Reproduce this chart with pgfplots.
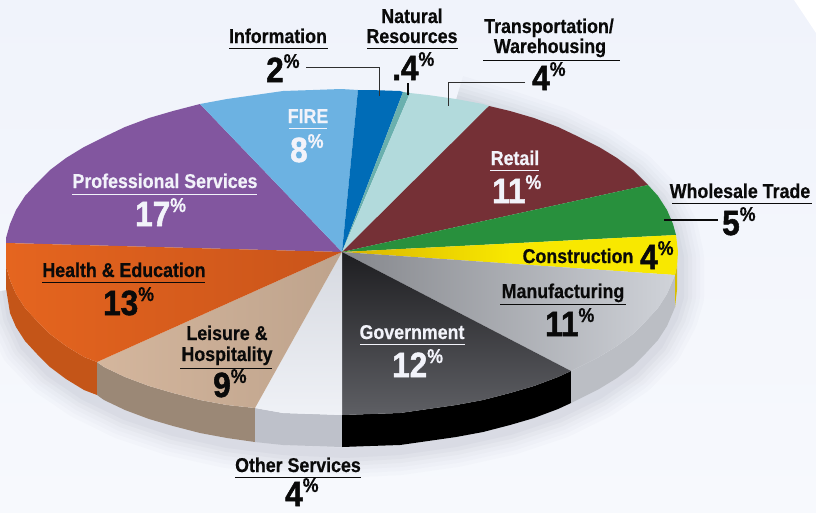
\documentclass[border=0pt]{standalone}
\usepackage{fontspec}
\setmainfont{Liberation Sans}[FakeStretch=0.9]
\newfontfamily\ttlf{Liberation Sans Bold}[FakeStretch=0.89,FakeBold=0.5]
\newfontfamily\numf{Liberation Sans Bold}[FakeStretch=0.9,FakeBold=1.5]
\usepackage{pgfplots}
\usepackage{pgfplotstable}
\pgfplotsset{compat=1.18}

\definecolor{bgtop}{HTML}{F0F3FB}
\definecolor{bgbot}{HTML}{F7F9FD}
\definecolor{shad}{HTML}{4E586C}
\definecolor{profc}{HTML}{82569F}
\definecolor{firec}{HTML}{6CB2E2}
\definecolor{infoc}{HTML}{006CB7}
\definecolor{natc}{HTML}{6AB0AE}
\definecolor{transc}{HTML}{B2DADC}
\definecolor{retailc}{HTML}{753036}
\definecolor{wholec}{HTML}{28903D}
\definecolor{txt}{HTML}{0A0A0A}
\definecolor{wtxt}{HTML}{F2F3FA}
\definecolor{side1}{HTML}{C45518}
\definecolor{side2}{HTML}{9B8876}
\definecolor{side3}{HTML}{BEC1CA}
\definecolor{side4}{HTML}{BBBEC4}
\definecolor{side5}{HTML}{D8BE00}
\definecolor{yl1}{HTML}{D9B400}
\definecolor{yl2}{HTML}{F8E800}
\definecolor{mf1}{HTML}{85878C}
\definecolor{mf2}{HTML}{D0D3D9}
\definecolor{gv1}{HTML}{1E1E21}
\definecolor{gvm}{HTML}{48494D}
\definecolor{gv2}{HTML}{5E5F64}
\definecolor{ot1}{HTML}{D6D9E0}
\definecolor{ot2}{HTML}{EFF1F6}
\definecolor{ls1}{HTML}{D4B69D}
\definecolor{ls2}{HTML}{BEA38C}
\definecolor{he1}{HTML}{E5651F}
\definecolor{he2}{HTML}{C9541A}

% right and lower edge of the pie, for the soft shadow
\pgfplotstableread{
x y
456 100
510 116
558 132
599 152
633 175
658 201
673 229
679 257
679 297
673 317
658 345
633 371
599 394
558 414
510 430
456 442
400 450
345 453
283 450
227 443
173 431
125 415
84 395
50 372
25 346
12 318
7 290
}\hull

\newcommand{\ttl}[4]{\node[anchor=base,inner sep=0pt,text=#3,font=\ttlf\fontsize{20}{20}\selectfont] at (axis cs:#1,#2) {#4};}
\newcommand{\rul}[4]{\draw[#4,line width=1pt] (axis cs:#1,#3) -- (axis cs:#2,#3);}
\newcommand{\pct}[4]{\node[anchor=base west,inner sep=0pt,text=#3] at (axis cs:#1,#2) {{\numf\fontsize{35}{35}\selectfont #4}\raisebox{14pt}{\ttlf\fontsize{20}{20}\selectfont\%}};}

\begin{document}
\begin{tikzpicture}
\begin{axis}[
  width=816pt, height=512pt,
  scale only axis,
  hide axis,
  xmin=0, xmax=816,
  ymin=0, ymax=512,
  y dir=reverse,
  clip=true,
]
% background
\addplot[draw=none, top color=bgtop, bottom color=bgbot] coordinates {(0,0) (816,0) (816,512) (0,512)} --cycle;
\addplot[draw=none, fill=white] coordinates {(794,0) (816,0) (816,33)} --cycle;

% shadow
\addplot[draw=shad, line width=50pt, opacity=0.02, line join=round] table {\hull};
\addplot[draw=shad, line width=42pt, opacity=0.02, line join=round] table {\hull};
\addplot[draw=shad, line width=34pt, opacity=0.025, line join=round] table {\hull};
\addplot[draw=shad, line width=26pt, opacity=0.03, line join=round] table {\hull};
\addplot[draw=shad, line width=18pt, opacity=0.035, line join=round] table {\hull};
\addplot[draw=shad, line width=10pt, opacity=0.04, line join=round] table {\hull};

% sides
\addplot[draw=none, fill=side1] coordinates {(97,362) (84,357) (66,346) (50,334) (37,321) (25,308) (16,294) (10,280) (6,266) (6,250) (6,288) (10,313) (16,327) (25,341) (37,354) (50,367) (66,379) (84,390) (97,395)} --cycle;
\addplot[draw=none, fill=side2] coordinates {(97,362) (104,367) (125,377) (149,386) (173,393) (200,400) (227,405) (255,408) (255,442) (227,438) (200,433) (173,426) (149,419) (125,410) (104,400) (97,395)} --cycle;
\addplot[draw=none, fill=side3] coordinates {(255,408) (283,413) (313,414) (342,415) (342,447) (313,446) (283,445) (255,442)} --cycle;
\addplot[draw=none, fill=black] coordinates {(342,415) (370,414) (400,413) (428,409) (456,405) (483,400) (510,393) (534,386) (558,377) (571,371) (571,403) (558,409) (534,418) (510,425) (483,432) (456,437) (428,441) (400,445) (370,446) (342,447)} --cycle;
\addplot[draw=none, fill=side4] coordinates {(571,371) (579,367) (599,357) (617,346) (633,334) (646,321) (658,308) (667,294) (673,280) (675,275) (675,307) (673,312) (667,326) (658,340) (646,353) (633,366) (617,378) (599,389) (579,399) (571,403)} --cycle;
\addplot[draw=none, fill=side5] coordinates {(677,266) (675,275) (675,307) (677,290)} --cycle;

% top faces
\addplot[draw=none, fill=profc] coordinates {(342,252) (6,243) (6,238) (10,224) (16,210) (25,196) (37,183) (50,170) (66,158) (84,147) (104,137) (125,127) (149,118) (173,111) (200,104)} --cycle;
\addplot[draw=none, fill=firec] coordinates {(342,252) (200,104) (227,99) (255,95) (283,91) (313,90) (341,89) (358,90)} --cycle;
\addplot[draw=none, fill=infoc] coordinates {(342,252) (358,90) (370,90) (400,91) (403,92)} --cycle;
\addplot[draw=none, fill=natc] coordinates {(342,252) (403,92) (410,93)} --cycle;
\addplot[draw=none, fill=transc] coordinates {(342,252) (410,93) (428,95) (456,99) (483,104) (489,106)} --cycle;
\addplot[draw=none, fill=retailc] coordinates {(342,252) (489,106) (510,111) (534,118) (558,127) (579,137) (599,147) (617,158) (633,170) (648,185)} --cycle;
\addplot[draw=none, fill=wholec] coordinates {(342,252) (648,185) (658,196) (667,210) (673,224) (676,235)} --cycle;
\addplot[draw=none, left color=yl1, right color=yl2, middle color=yl2] coordinates {(342,252) (676,235) (678,252) (677,266) (675,275)} --cycle;
\addplot[draw=none, left color=mf1, middle color=mf2, right color=mf2] coordinates {(342,252) (675,275) (673,280) (667,294) (658,308) (646,321) (633,334) (617,346) (599,357) (579,367) (571,371)} --cycle;
\addplot[draw=none, top color=gv1, middle color=gvm, bottom color=gv2] coordinates {(342,252) (571,371) (558,377) (534,386) (510,393) (483,400) (456,405) (428,409) (400,413) (370,414) (342,415)} --cycle;
\addplot[draw=none, top color=ot1, bottom color=ot2] coordinates {(342,252) (342,415) (313,414) (283,413) (255,408)} --cycle;
\addplot[draw=none, left color=ls1, right color=ls2] coordinates {(342,252) (255,408) (227,405) (200,400) (173,393) (149,386) (125,377) (104,367) (97,362)} --cycle;
\addplot[draw=none, left color=he1, right color=he2] coordinates {(342,252) (97,362) (84,357) (66,346) (50,334) (37,321) (25,308) (16,294) (10,280) (6,266) (6,243)} --cycle;

% leader lines
\draw[txt!85,line width=1pt] (axis cs:306,67) -- (axis cs:379,67) -- (axis cs:379,96);
\draw[txt,line width=1.2pt] (axis cs:408,83) -- (axis cs:408,95);
\draw[txt!85,line width=1pt] (axis cs:525,82) -- (axis cs:448,82) -- (axis cs:448,106);
\draw[txt,line width=1.2pt] (axis cs:664,220) -- (axis cs:718,220);

% labels
\ttl{278}{43}{txt}{Information} \rul{229}{328}{48}{txt} \pct{266}{82}{txt}{2}
\ttl{412}{23}{txt}{Natural} \ttl{412}{43}{txt}{Resources} \rul{367}{458}{48}{txt} \pct{392}{80}{txt}{.4}
\ttl{549}{33}{txt}{Transportation/} \ttl{550}{53}{txt}{Warehousing} \rul{483}{620}{60}{txt} \pct{532}{90}{txt}{4}
\ttl{740}{198}{txt}{Wholesale Trade} \rul{672}{812}{203}{txt} \pct{722}{235}{txt}{5}
\ttl{578}{263}{txt}{Construction} \pct{640}{269}{txt}{4}
\ttl{563}{298}{txt}{Manufacturing} \rul{500}{626}{304}{txt} \pct{545}{336}{txt}{11}
\ttl{515}{165}{wtxt}{Retail} \rul{490}{539}{170}{wtxt} \pct{492}{203}{wtxt}{11}
\ttl{308}{123}{wtxt}{FIRE} \rul{289}{327}{128}{wtxt} \pct{290}{162}{wtxt}{8}
\ttl{165}{188}{wtxt}{Professional Services} \rul{72}{257}{194}{wtxt} \pct{135}{226}{wtxt}{17}
\ttl{124}{277}{txt}{Health \& Education} \rul{42}{205}{282}{txt} \pct{103}{315}{txt}{13}
\ttl{227}{340}{txt}{Leisure \&} \ttl{227}{361}{txt}{Hospitality} \rul{180}{272}{368}{txt} \pct{213}{397}{txt}{9}
\ttl{412}{339}{wtxt}{Government} \rul{360}{465}{344}{wtxt} \pct{392}{377}{wtxt}{12}
\ttl{298}{472}{txt}{Other Services} \rul{235}{361}{477}{txt} \pct{285}{506}{txt}{4}
\end{axis}
\end{tikzpicture}
\end{document}
